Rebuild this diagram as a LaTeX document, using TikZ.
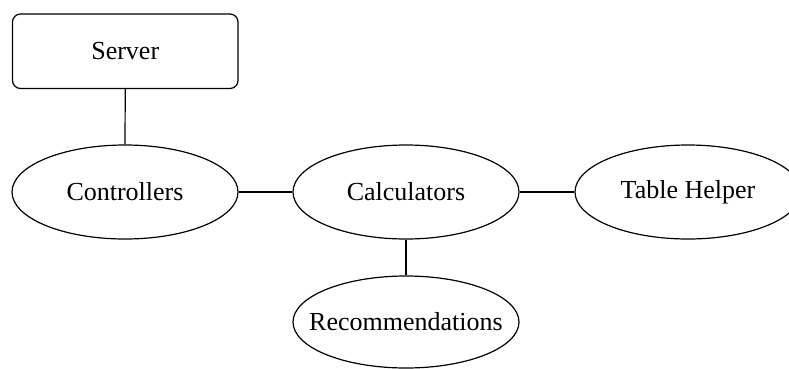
\documentclass[tikz,border=0pt]{standalone}
\usepackage{fontspec}
\setmainfont{Liberation Serif}
\usetikzlibrary{shapes.geometric}
\begin{document}
\begin{tikzpicture}[x=1pt,y=-1pt,
  every node/.style={font=\fontsize{26}{31}\selectfont},
  ovalnode/.style={draw,line width=1.2pt,ellipse,minimum width=226pt,minimum height=94pt,inner sep=0pt},
  boxnode/.style={draw,line width=1.2pt,rounded corners=8pt,minimum width=225.5pt,minimum height=74.5pt,inner sep=0pt},
  link/.style={line width=1.2pt}]
\useasboundingbox (0,0) rectangle (789,368);
\fill[white] (0,0) rectangle (789,368);
\node[boxnode] (server) at (125.25,51.25) {Server};
\node[ovalnode] (ctrl) at (125,192) {\makebox[0pt]{Controllers}};
\node[ovalnode] (calc) at (406,192) {\makebox[0pt]{Calculators}};
\node[ovalnode] (table) at (688,192) {\makebox[0pt]{Table Helper}};
\node[ovalnode,minimum height=92pt] (rec) at (406,322) {\makebox[0pt]{Recommendations}};
\draw[link] (server.south) -- (ctrl.north);
\draw[link] (ctrl.east) -- (calc.west);
\draw[link] (calc.east) -- (table.west);
\draw[link] (calc.south) -- (rec.north);
\end{tikzpicture}
\end{document}
